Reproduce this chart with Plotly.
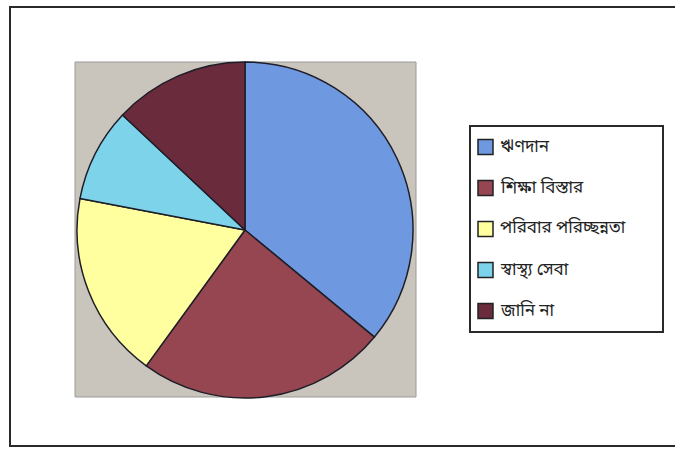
import plotly.graph_objects as go

# Survey shares by category (percent)
labels = ["ঋণদান", "শিক্ষা বিস্তার", "পরিবার পরিচ্ছন্নতা", "স্বাস্থ্য সেবা", "জানি না"]
values = [36, 24, 18, 9, 13]
colors = ["#6E98E0", "#964650", "#FFFFA0", "#7DD3EA", "#6A2C3C"]

W, H = 675, 450

def px(x):
    return x / W

def py(y):
    return 1 - y / H

fig = go.Figure()
fig.add_trace(go.Pie(
    labels=labels,
    values=values,
    sort=False,
    direction="clockwise",
    rotation=0,
    textinfo="none",
    hoverinfo="label+percent",
    marker=dict(colors=colors, line=dict(color="#1e1e28", width=1.5)),
    domain=dict(x=[px(74), px(416)], y=[py(398), py(62)]),
    showlegend=False,
))

shapes = [
    # outer frame
    dict(type="rect", xref="paper", yref="paper",
         x0=px(10), x1=px(700), y0=py(446), y1=py(7),
         line=dict(color="#2a2a2a", width=2), fillcolor="rgba(0,0,0,0)", layer="below"),
    # grey plot area behind the pie
    dict(type="rect", xref="paper", yref="paper",
         x0=px(75), x1=px(416), y0=py(397), y1=py(62),
         line=dict(color="#9a9a96", width=1), fillcolor="#C9C5BD", layer="below"),
    # legend box
    dict(type="rect", xref="paper", yref="paper",
         x0=px(470), x1=px(663), y0=py(332), y1=py(126),
         line=dict(color="#2a2a2a", width=2), fillcolor="white", layer="below"),
]

annotations = []
y0, step = 147, 41
for i, (lab, col) in enumerate(zip(labels, colors)):
    yc = y0 + i * step
    shapes.append(dict(type="rect", xref="paper", yref="paper",
                       x0=px(478), x1=px(493), y0=py(yc + 7.5), y1=py(yc - 7.5),
                       line=dict(color="#222", width=1.5), fillcolor=col))
    annotations.append(dict(xref="paper", yref="paper", x=px(498), y=py(yc),
                            text=lab, showarrow=False, xanchor="left", yanchor="middle",
                            font=dict(size=17, color="#222",
                                      family="Noto Sans Bengali, Noto Sans, sans-serif")))

fig.update_layout(
    width=W, height=H,
    margin=dict(l=0, r=0, t=0, b=0),
    paper_bgcolor="white",
    plot_bgcolor="white",
    shapes=shapes,
    annotations=annotations,
)

fig.write_html("out.html")
